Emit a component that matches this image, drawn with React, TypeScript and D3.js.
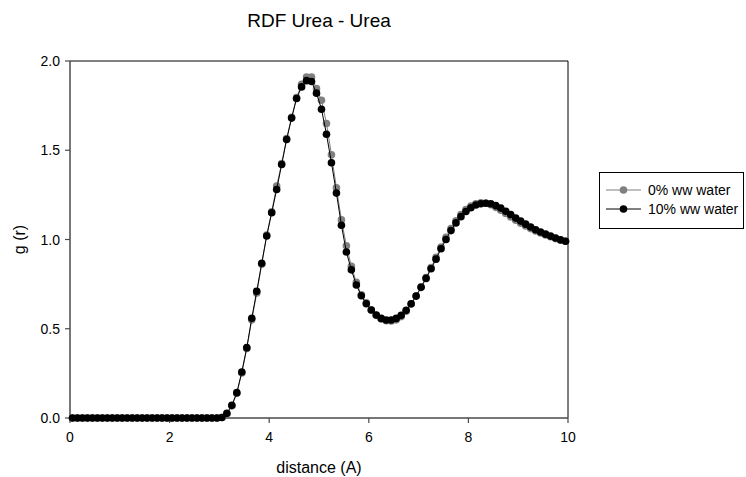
import React from "react";
import * as d3 from "d3";

const distance: number[] = d3.range(100).map((i) => +(0.05 + i * 0.1).toFixed(2));

// 0% ww water (grey)
const g0: number[] = [
  0, 0, 0, 0, 0, 0, 0, 0, 0, 0,
  0, 0, 0, 0, 0, 0, 0, 0, 0, 0,
  0, 0, 0, 0, 0, 0, 0, 0, 0, 0,
  0.003, 0.024, 0.068, 0.138, 0.252, 0.39, 0.55, 0.7, 0.862, 1.025,
  1.155, 1.3, 1.425, 1.565, 1.685, 1.795, 1.87, 1.91, 1.91, 1.845,
  1.78, 1.65, 1.475, 1.29, 1.11, 0.965, 0.85, 0.76, 0.69, 0.645,
  0.605, 0.575, 0.555, 0.545, 0.543, 0.55, 0.568, 0.598, 0.638, 0.683,
  0.735, 0.787, 0.843, 0.9, 0.958, 1.012, 1.062, 1.105, 1.14, 1.168,
  1.188, 1.2, 1.205, 1.203, 1.195, 1.18, 1.164, 1.146, 1.127, 1.108,
  1.091, 1.076, 1.061, 1.048, 1.036, 1.025, 1.015, 1.005, 0.996, 0.99,
];

// 10% ww water (black)
const g10: number[] = [
  0, 0, 0, 0, 0, 0, 0, 0, 0, 0,
  0, 0, 0, 0, 0, 0, 0, 0, 0, 0,
  0, 0, 0, 0, 0, 0, 0, 0, 0, 0,
  0.003, 0.026, 0.071, 0.142, 0.258, 0.394, 0.559, 0.71, 0.867, 1.02,
  1.15, 1.28, 1.42, 1.56, 1.68, 1.79, 1.855, 1.89, 1.885, 1.82,
  1.73, 1.59, 1.43, 1.26, 1.08, 0.93, 0.83, 0.745, 0.685, 0.64,
  0.605, 0.577, 0.558, 0.549, 0.549, 0.558, 0.575, 0.603, 0.64, 0.683,
  0.732, 0.782, 0.836, 0.89, 0.948, 1.0, 1.05, 1.093, 1.128, 1.157,
  1.178, 1.193, 1.2, 1.203, 1.2, 1.19, 1.176, 1.158, 1.14, 1.12,
  1.103, 1.086, 1.07, 1.055, 1.042, 1.03, 1.019, 1.008, 0.998, 0.99,
];

const xTicks: number[] = [0, 2, 4, 6, 8, 10];
const yTicks: number[] = [0, 0.5, 1.0, 1.5, 2.0];
const seriesNames: string[] = ["0% ww water", "10% ww water"];
const seriesColors: string[] = ["#808080", "#000000"];

const W = 746;
const H = 477;
const m = { left: 70, right: 568, top: 61, bottom: 418 };
const FONT = "'Liberation Sans', Arial, sans-serif";

export default function App() {
  const x = d3.scaleLinear().domain([0, 10]).range([m.left, m.right]);
  const y = d3.scaleLinear().domain([0, 2]).range([m.bottom, m.top]);
  const line = d3
    .line<[number, number]>()
    .x((d) => x(d[0]))
    .y((d) => y(d[1]));
  const series = [g0, g10].map((vals) => distance.map((d, i) => [d, vals[i]] as [number, number]));

  return (
    <svg
      width={W}
      height={H}
      style={{ position: "absolute", left: 0, top: 0, background: "#fff" }}
      fontFamily={FONT}
    >
      <rect x={0} y={0} width={W} height={H} fill="#fff" />
      <text x={319} y={27} textAnchor="middle" fontSize={19} fill="#000">
        RDF Urea - Urea
      </text>

      {/* frame */}
      <line x1={m.left} x2={m.right} y1={m.top} y2={m.top} stroke="#000" strokeWidth={1} />
      <line x1={m.right} x2={m.right} y1={m.top} y2={m.bottom} stroke="#000" strokeWidth={1} />
      <line x1={m.left} x2={m.left} y1={m.top} y2={m.bottom + 0.5} stroke="#4a4a4a" strokeWidth={1.5} />
      <line x1={m.left} x2={m.right} y1={m.bottom} y2={m.bottom} stroke="#4a4a4a" strokeWidth={1.5} />

      {yTicks.map((t) => (
        <g key={"y" + t}>
          <line x1={m.left - 5} x2={m.left} y1={y(t)} y2={y(t)} stroke="#4a4a4a" strokeWidth={1.2} />
          <text x={m.left - 10} y={y(t) + 5} textAnchor="end" fontSize={14} fill="#000">
            {t.toFixed(1)}
          </text>
        </g>
      ))}
      {xTicks.map((t) => (
        <g key={"x" + t}>
          <line x1={x(t)} x2={x(t)} y1={m.bottom} y2={m.bottom + 5} stroke="#4a4a4a" strokeWidth={1.2} />
          <text x={x(t)} y={m.bottom + 24} textAnchor="middle" fontSize={14} fill="#000">
            {t}
          </text>
        </g>
      ))}

      <text x={319} y={473} textAnchor="middle" fontSize={16} fill="#000">
        distance (A)
      </text>
      <text
        transform={`translate(25,${(m.top + m.bottom) / 2}) rotate(-90)`}
        textAnchor="middle"
        fontSize={16}
        fill="#000"
      >
        g (r)
      </text>

      {series.map((pts, si) => (
        <g key={"s" + si}>
          <path d={line(pts) || ""} fill="none" stroke={seriesColors[si]} strokeWidth={1} />
          {pts.map((p, i) => (
            <circle key={i} cx={x(p[0])} cy={y(p[1])} r={3.8} fill={seriesColors[si]} />
          ))}
        </g>
      ))}

      {/* legend */}
      <rect x={599.5} y={172.5} width={144} height={56} fill="#fff" stroke="#000" strokeWidth={1} />
      {seriesNames.map((name, i) => {
        const ly = 190 + i * 19;
        return (
          <g key={"l" + i}>
            <line x1={606} x2={641} y1={ly} y2={ly} stroke={seriesColors[i]} strokeWidth={1} />
            <circle cx={623.5} cy={ly} r={3.8} fill={seriesColors[i]} />
            <text x={648} y={ly + 5} fontSize={14} fill="#000">
              {name}
            </text>
          </g>
        );
      })}
    </svg>
  );
}
